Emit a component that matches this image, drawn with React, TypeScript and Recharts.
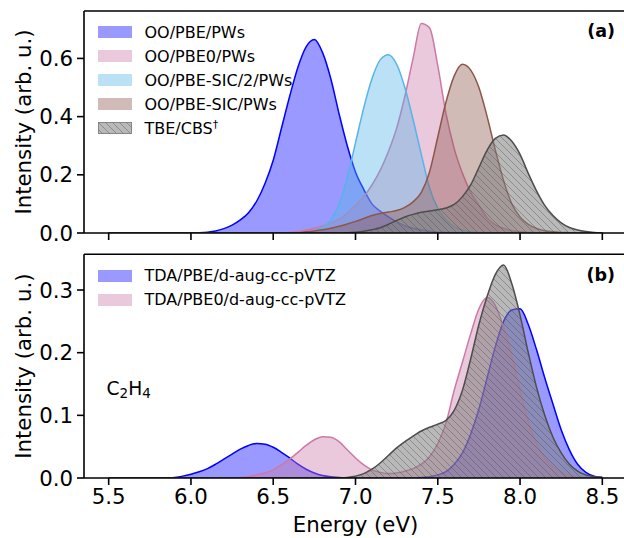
import React from "react";
import { Area, AreaChart, Legend, ReferenceLine, XAxis, YAxis } from "recharts";

// energy grid (eV)
const energy = [
  5.5, 5.55, 5.6, 5.65, 5.7, 5.75, 5.8, 5.85, 5.9, 5.95,
  6.0, 6.05, 6.1, 6.15, 6.2, 6.25, 6.3, 6.35, 6.4, 6.45,
  6.5, 6.55, 6.6, 6.65, 6.7, 6.75, 6.8, 6.85, 6.9, 6.95,
  7.0, 7.05, 7.1, 7.15, 7.2, 7.25, 7.3, 7.35, 7.4, 7.45,
  7.5, 7.55, 7.6, 7.65, 7.7, 7.75, 7.8, 7.85, 7.9, 7.95,
  8.0, 8.05, 8.1, 8.15, 8.2, 8.25, 8.3, 8.35, 8.4, 8.45,
  8.5,
];

// panel (a)
const ooPbe = [
  0, 0, 0, 0, 0, 0, 0, 0, 0, 0,
  0, 0.001, 0.003, 0.007, 0.015, 0.027, 0.045, 0.07, 0.11, 0.17,
  0.25, 0.36, 0.47, 0.57, 0.64, 0.665, 0.62, 0.53, 0.41, 0.3,
  0.21, 0.15, 0.1, 0.075, 0.055, 0.038, 0.025, 0.016, 0.01, 0.006,
  0.003, 0.002, 0.001, 0, 0, 0, 0, 0, 0, 0,
  0, 0, 0, 0, 0, 0, 0, 0, 0, 0,
  0,
];
const ooPbe0 = [
  0, 0, 0, 0, 0, 0, 0, 0, 0, 0,
  0, 0, 0, 0, 0, 0, 0, 0, 0, 0,
  0, 0, 0.002, 0.005, 0.01, 0.016, 0.024, 0.034, 0.048, 0.068,
  0.095, 0.125, 0.165, 0.215, 0.28, 0.36, 0.47, 0.6, 0.72, 0.705,
  0.575, 0.41, 0.29, 0.205, 0.14, 0.095, 0.052, 0.028, 0.016, 0.008,
  0.004, 0.002, 0.001, 0, 0, 0, 0, 0, 0, 0,
  0,
];
const ooSic2 = [
  0, 0, 0, 0, 0, 0, 0, 0, 0, 0,
  0, 0, 0, 0, 0, 0, 0, 0, 0, 0,
  0, 0, 0, 0, 0.003, 0.008, 0.02, 0.045, 0.1, 0.19,
  0.31, 0.43, 0.53, 0.595, 0.613, 0.58, 0.5, 0.39, 0.27, 0.155,
  0.085, 0.045, 0.022, 0.01, 0.004, 0.002, 0.001, 0, 0, 0,
  0, 0, 0, 0, 0, 0, 0, 0, 0, 0,
  0,
];
const ooSic = [
  0, 0, 0, 0, 0, 0, 0, 0, 0, 0,
  0, 0, 0, 0, 0, 0, 0, 0, 0, 0,
  0, 0, 0, 0, 0.004, 0.007, 0.011, 0.016, 0.023, 0.031,
  0.04, 0.05, 0.06, 0.067, 0.072, 0.077, 0.088, 0.107, 0.14, 0.21,
  0.33, 0.45, 0.54, 0.58, 0.56, 0.5, 0.4, 0.285, 0.18, 0.1,
  0.055, 0.03, 0.016, 0.008, 0.004, 0.002, 0.001, 0, 0, 0,
  0,
];
const tbeA = [
  0, 0, 0, 0, 0, 0, 0, 0, 0, 0,
  0, 0, 0, 0, 0, 0, 0, 0, 0, 0,
  0, 0, 0, 0, 0, 0, 0, 0, 0, 0.001,
  0.003, 0.006, 0.011, 0.018, 0.03, 0.043, 0.055, 0.064, 0.071, 0.076,
  0.08, 0.086, 0.098, 0.125, 0.165, 0.225, 0.285, 0.325, 0.337, 0.315,
  0.27, 0.205, 0.145, 0.095, 0.06, 0.035, 0.019, 0.01, 0.005, 0.002,
  0.001,
];

// panel (b)
const tdaPbe = [
  0, 0, 0, 0, 0, 0, 0, 0, 0.001, 0.003,
  0.006, 0.01, 0.015, 0.022, 0.03, 0.038, 0.046, 0.052, 0.055, 0.054,
  0.049, 0.041, 0.032, 0.022, 0.014, 0.008, 0.004, 0.002, 0.001, 0,
  0, 0, 0, 0, 0, 0, 0, 0, 0.001, 0.002,
  0.005, 0.01, 0.022, 0.04, 0.07, 0.11, 0.16, 0.21, 0.25, 0.268,
  0.27, 0.245, 0.205, 0.16, 0.118, 0.077, 0.045, 0.022, 0.009, 0.003,
  0.001,
];
const tdaPbe0 = [
  0, 0, 0, 0, 0, 0, 0, 0, 0, 0,
  0, 0, 0, 0, 0, 0, 0.001, 0.002, 0.005, 0.008,
  0.013, 0.021, 0.03, 0.041, 0.052, 0.061, 0.066, 0.065, 0.058, 0.045,
  0.032, 0.021, 0.013, 0.009, 0.007, 0.008, 0.011, 0.015, 0.022, 0.034,
  0.055, 0.088, 0.14, 0.185, 0.23, 0.27, 0.288, 0.275, 0.24, 0.195,
  0.14, 0.09, 0.055, 0.032, 0.018, 0.009, 0.004, 0.001, 0, 0,
  0,
];
const tbeB = [
  0, 0, 0, 0, 0, 0, 0, 0, 0, 0,
  0, 0, 0, 0, 0, 0, 0, 0, 0, 0,
  0, 0, 0, 0, 0, 0, 0, 0, 0, 0.001,
  0.003, 0.007, 0.014, 0.024, 0.036, 0.048, 0.058, 0.067, 0.075, 0.081,
  0.086, 0.092, 0.108, 0.14, 0.19, 0.245, 0.29, 0.325, 0.34, 0.31,
  0.26, 0.2, 0.145, 0.1, 0.065, 0.04, 0.022, 0.011, 0.005, 0.002,
  0.001,
];

const xTicks = [5.5, 6.0, 6.5, 7.0, 7.5, 8.0, 8.5];
const yTicksA = [0, 0.2, 0.4, 0.6];
const yTicksB = [0, 0.1, 0.2, 0.3];
const labelsA = ["OO/PBE/PWs", "OO/PBE0/PWs", "OO/PBE-SIC/2/PWs", "OO/PBE-SIC/PWs", "TBE/CBS"];
const labelsB = ["TDA/PBE/d-aug-cc-pVTZ", "TDA/PBE0/d-aug-cc-pVTZ"];

const BLUE = "#0000ff";
const PINK = "#cc79a7";
const SKY = "#56b4e9";
const BROWN = "#8c564b";
const DARK = "#4d4d4d";

const dataA = energy.map((e, i) => ({
  e,
  pbe: ooPbe[i],
  pbe0: ooPbe0[i],
  sic2: ooSic2[i],
  sic: ooSic[i],
  tbe: tbeA[i],
}));
const dataB = energy.map((e, i) => ({
  e,
  pbe: tdaPbe[i],
  pbe0: tdaPbe0[i],
  tbe: tbeB[i],
}));

const FONT = "'DejaVu Sans', sans-serif";
const TICK_FS = 21.3;
const axisStyle = { stroke: "#000", strokeWidth: 1.6 };

const Hatch = ({ id }: { id: string }) => (
  <pattern id={id} patternUnits="userSpaceOnUse" width={7} height={7}>
    <rect width={7} height={7} fill="#808080" fillOpacity={0.55} />
    <path
      d="M-1,-1 L8,8 M-1,6 L1,8 M6,-1 L8,1"
      stroke="#4a4a4a"
      strokeOpacity={0.5}
      strokeWidth={0.8}
    />
  </pattern>
);

const LegendBox = ({ items }: { items: { label: string; color?: string; hatch?: boolean }[] }) => (
  <div style={{ fontFamily: FONT, fontSize: 16, color: "#000" }}>
    {items.map((it) => (
      <div key={it.label} style={{ display: "flex", alignItems: "center", height: 24 }}>
        <svg width={34} height={12} style={{ marginRight: 12.5, flexShrink: 0 }}>
          {it.hatch ? (
            <>
              <defs>
                <Hatch id="hatchLeg" />
              </defs>
              <rect x={0.5} y={0.5} width={33} height={11} fill="url(#hatchLeg)" stroke={DARK} strokeOpacity={0.6} />
            </>
          ) : (
            <rect width={34} height={12} fill={it.color} fillOpacity={0.4} />
          )}
        </svg>
        <span style={{ whiteSpace: "nowrap" }}>
          {it.label}
          {it.hatch ? <sup style={{ fontSize: 11, verticalAlign: "6px" }}>†</sup> : null}
        </span>
      </div>
    ))}
  </div>
);

const yLabel = {
  value: "Intensity (arb. u.)",
  angle: -90,
  position: "insideLeft" as const,
  offset: 23,
  style: { textAnchor: "middle", fontSize: TICK_FS, fill: "#000" },
};

export default function App() {
  return (
    <div
      style={{
        position: "absolute",
        left: 0,
        top: 0,
        width: 624,
        height: 538,
        overflow: "hidden",
        background: "#fff",
        fontFamily: FONT,
      }}
    >
      <div style={{ position: "absolute", left: 0, top: 0 }}>
        <AreaChart width={640} height={245} data={dataA} margin={{ top: 11, right: 13, left: 0, bottom: 0 }}>
          <defs>
            <Hatch id="hatchA" />
          </defs>
          <XAxis
            dataKey="e"
            type="number"
            domain={[5.35, 8.65]}
            ticks={xTicks}
            interval={0}
            tickFormatter={() => ""}
            height={12}
            tickSize={7}
            axisLine={axisStyle}
            tickLine={axisStyle}
            allowDataOverflow
          />
          <YAxis
            type="number"
            domain={[0, 0.763]}
            ticks={yTicksA}
            interval={0}
            width={84}
            tickSize={7}
            tickMargin={4}
            tick={{ fill: "#000", fontSize: TICK_FS }}
            tickFormatter={(v: number) => v.toFixed(1)}
            axisLine={axisStyle}
            tickLine={axisStyle}
            label={yLabel}
            allowDataOverflow
          />
          <Area type="monotone" dataKey="pbe" stroke={BLUE} strokeWidth={1.5} fill={BLUE} fillOpacity={0.4} dot={false} activeDot={false} isAnimationActive={false} />
          <Area type="monotone" dataKey="pbe0" stroke={PINK} strokeWidth={1.5} fill={PINK} fillOpacity={0.4} dot={false} activeDot={false} isAnimationActive={false} />
          <Area type="monotone" dataKey="sic2" stroke={SKY} strokeWidth={1.5} fill={SKY} fillOpacity={0.4} dot={false} activeDot={false} isAnimationActive={false} />
          <Area type="monotone" dataKey="sic" stroke={BROWN} strokeWidth={1.5} fill={BROWN} fillOpacity={0.4} dot={false} activeDot={false} isAnimationActive={false} />
          <Area type="monotone" dataKey="tbe" stroke={DARK} strokeWidth={1.5} fill="url(#hatchA)" fillOpacity={1} dot={false} activeDot={false} isAnimationActive={false} />
          <ReferenceLine y={0.763} stroke="#000" strokeWidth={1.6} />
          <Legend
            layout="vertical"
            align="center"
            verticalAlign="middle"
            wrapperStyle={{ left: 98, top: 20, width: "auto" }}
            content={() => (
              <LegendBox
                items={[
                  { label: labelsA[0], color: BLUE },
                  { label: labelsA[1], color: PINK },
                  { label: labelsA[2], color: SKY },
                  { label: labelsA[3], color: BROWN },
                  { label: labelsA[4], hatch: true },
                ]}
              />
            )}
          />
        </AreaChart>
      </div>

      <div style={{ position: "absolute", left: 0, top: 240 }}>
        <AreaChart width={640} height={298} data={dataB} margin={{ top: 14.3, right: 13, left: 0, bottom: 0 }}>
          <defs>
            <Hatch id="hatchB" />
          </defs>
          <XAxis
            dataKey="e"
            type="number"
            domain={[5.35, 8.65]}
            ticks={xTicks}
            interval={0}
            tickFormatter={(v: number) => v.toFixed(1)}
            height={60}
            tickSize={7}
            tickMargin={4}
            tick={{ fill: "#000", fontSize: TICK_FS }}
            axisLine={axisStyle}
            tickLine={axisStyle}
            label={{ value: "Energy (eV)", position: "insideBottom", offset: 6, style: { fontSize: TICK_FS, fill: "#000" } }}
            allowDataOverflow
          />
          <YAxis
            type="number"
            domain={[0, 0.357]}
            ticks={yTicksB}
            interval={0}
            width={84}
            tickSize={7}
            tickMargin={4}
            tick={{ fill: "#000", fontSize: TICK_FS }}
            tickFormatter={(v: number) => v.toFixed(1)}
            axisLine={axisStyle}
            tickLine={axisStyle}
            label={yLabel}
            allowDataOverflow
          />
          <Area type="monotone" dataKey="pbe" stroke={BLUE} strokeWidth={1.5} fill={BLUE} fillOpacity={0.4} dot={false} activeDot={false} isAnimationActive={false} />
          <Area type="monotone" dataKey="pbe0" stroke={PINK} strokeWidth={1.5} fill={PINK} fillOpacity={0.4} dot={false} activeDot={false} isAnimationActive={false} />
          <Area type="monotone" dataKey="tbe" stroke={DARK} strokeWidth={1.5} fill="url(#hatchB)" fillOpacity={1} dot={false} activeDot={false} isAnimationActive={false} />
          <ReferenceLine y={0.357} stroke="#000" strokeWidth={1.6} />
          <Legend
            layout="vertical"
            align="center"
            verticalAlign="middle"
            wrapperStyle={{ left: 98, top: 23.7, width: "auto" }}
            content={() => (
              <LegendBox
                items={[
                  { label: labelsB[0], color: BLUE },
                  { label: labelsB[1], color: PINK },
                ]}
              />
            )}
          />
        </AreaChart>
      </div>

      <svg
        width={624}
        height={538}
        style={{ position: "absolute", left: 0, top: 0, pointerEvents: "none" }}
      >
        <text x={615} y={37} textAnchor="end" fontSize={17.5} fontWeight="bold" fontFamily={FONT}>
          (a)
        </text>
        <text x={615} y={281} textAnchor="end" fontSize={17.5} fontWeight="bold" fontFamily={FONT}>
          (b)
        </text>
        <text x={106.5} y={395} fontSize={18.7} fontFamily={FONT}>
          C
          <tspan fontSize={13.5} dy={3}>
            2
          </tspan>
          <tspan dy={-3}>H</tspan>
          <tspan fontSize={13.5} dy={3}>
            4
          </tspan>
        </text>
      </svg>
    </div>
  );
}
